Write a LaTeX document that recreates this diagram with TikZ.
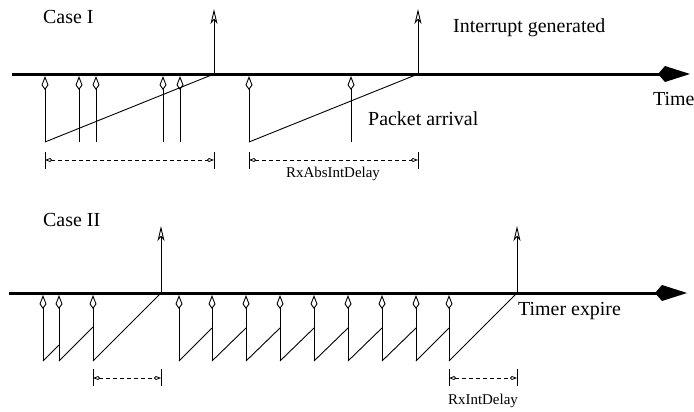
\documentclass[tikz,border=0pt]{standalone}
\usepackage{fontspec}
\setmainfont{Liberation Serif}
\usetikzlibrary{arrows.meta}
\begin{document}
\begin{tikzpicture}[x=1bp,y=-1bp,
  axisline/.style={line width=3bp,-{Kite[length=32bp,width=16bp,inset=7bp]}},
  arrival/.style={line width=0.9bp,-{Kite[open,length=14bp,width=7bp,inset=5bp]}},
  intr/.style={line width=0.9bp,-{Stealth[open,length=15bp,width=7bp,inset=4bp]}},
  ramp/.style={line width=0.9bp},
  dimline/.style={line width=0.8bp,dash pattern=on 4bp off 3bp,{Kite[open,length=7bp,width=4bp]}-{Kite[open,length=7bp,width=4bp]}},
  dimtick/.style={line width=0.9bp},
  lbl/.style={font=\fontsize{20}{24}\selectfont,inner sep=0pt,anchor=base west},
  small/.style={font=\fontsize{15}{18}\selectfont,inner sep=0pt,anchor=base}
]
\useasboundingbox (0,0) rectangle (694,411);

% ---------- Case I ----------
\node[lbl] (case1) at (43,23) {Case I};
\node[lbl] (intgen) at (453,32) {Interrupt generated};
\node[lbl] (pkt) at (368,125) {Packet arrival};
\node[lbl] (time) at (653,105) {Time};

\coordinate (axAs) at (12,74);
\coordinate (axAe) at (690,74);
\draw[axisline] (axAs) -- (axAe);

\foreach \x [count=\i] in {45,79,96,163,180,249,351}{
  \coordinate (pa\i) at (\x,142);
  \coordinate (pat\i) at (\x,76);
  \draw[arrival] (pa\i) -- (pat\i);
}
\coordinate (ia1) at (214,74); \coordinate (iat1) at (214,9);
\coordinate (ia2) at (418,74); \coordinate (iat2) at (418,9);
\draw[intr] (ia1) -- (iat1);
\draw[intr] (ia2) -- (iat2);
\draw[ramp] (pa1) -- (ia1);
\draw[ramp] (pa6) -- (ia2);

\coordinate (d1a) at (45,160); \coordinate (d1b) at (214,160);
\coordinate (d2a) at (249,160); \coordinate (d2b) at (418,160);
\foreach \d in {d1a,d1b,d2a,d2b}{
  \draw[dimtick] ([yshift=-9bp]\d) -- ([yshift=8bp]\d);
}
\draw[dimline] (d1a) -- (d1b);
\draw[dimline] (d2a) -- (d2b);
\node[small] (absdelay) at (333,177) {RxAbsIntDelay};

% ---------- Case II ----------
\node[lbl] (case2) at (43,226) {Case II};
\node[lbl] (timer) at (518,315) {Timer expire};

\coordinate (axBs) at (9,293);
\coordinate (axBe) at (687,293);
\draw[axisline] (axBs) -- (axBe);

\foreach \x [count=\i] in {43,59,93,179,212,246,280,314,348,382,416,449}{
  \coordinate (pb\i) at (\x,361);
  \coordinate (pbt\i) at (\x,295);
  \draw[arrival] (pb\i) -- (pbt\i);
}
% ramps (45 degree slope)
\draw[ramp] (pb1) -- (59,345);
\draw[ramp] (pb2) -- (93,327);
\coordinate (ib1) at (161,293); \coordinate (ibt1) at (161,226);
\draw[ramp] (pb3) -- (ib1);
\foreach \i/\x in {4/212,5/246,6/280,7/314,8/348,9/382,10/416,11/449}{
  \draw[ramp] (pb\i) -- (\x,328);
}
\coordinate (ib2) at (517,293); \coordinate (ibt2) at (517,226);
\draw[ramp] (pb12) -- (ib2);
\draw[intr] (ib1) -- (ibt1);
\draw[intr] (ib2) -- (ibt2);

\coordinate (e1a) at (93,378); \coordinate (e1b) at (161,378);
\coordinate (e2a) at (449,378); \coordinate (e2b) at (517,378);
\foreach \d in {e1a,e1b,e2a,e2b}{
  \draw[dimtick] ([yshift=-8bp]\d) -- ([yshift=9bp]\d);
}
\draw[dimline] (e1a) -- (e1b);
\draw[dimline] (e2a) -- (e2b);
\node[small] (intdelay) at (483,404) {RxIntDelay};
\end{tikzpicture}
\end{document}
